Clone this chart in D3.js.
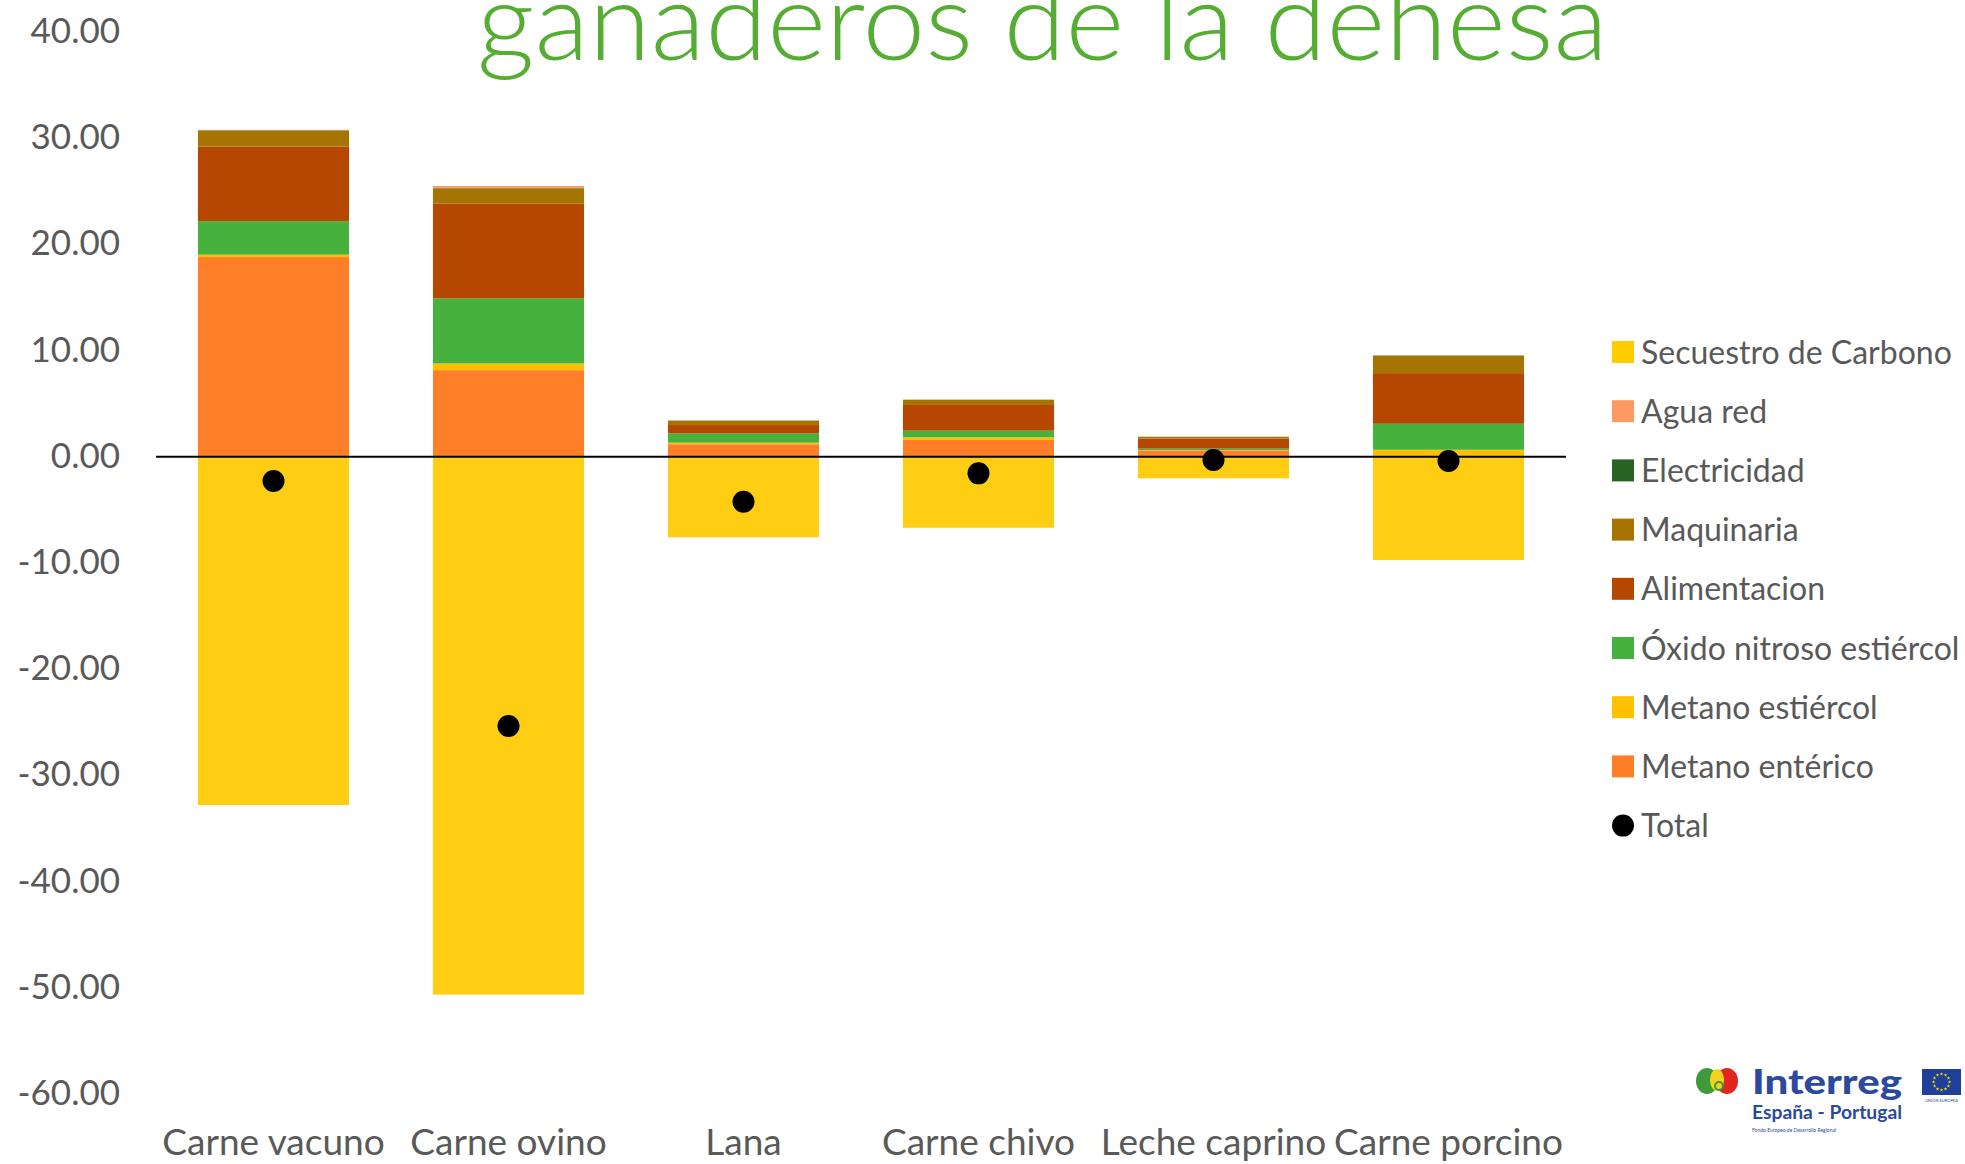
<!DOCTYPE html>
<html>
<head>
<meta charset="utf-8">
<script src="https://cdn.jsdelivr.net/npm/d3@7"></script>
<style>
  body { margin: 0; background: #ffffff; }
  svg { display: block; }
</style>
</head>
<body>
<svg id="chart" width="1965" height="1164"></svg>
<script>
// Livestock products of the dehesa: emission sources (positive) and carbon sequestration (negative)
const categories = ["Carne vacuno", "Carne ovino", "Lana", "Carne chivo", "Leche caprino", "Carne porcino"];

const metanoEnterico   = [18.80, 8.15, 1.17, 1.57, 0.56, 0.05];
const metanoEstiercol  = [0.22, 0.63, 0.15, 0.25, 0.05, 0.60];
const oxidoNitroso     = [3.16, 6.12, 0.88, 0.63, 0.15, 2.45];
const alimentacion     = [7.03, 8.95, 0.78, 2.42, 0.94, 4.77];
const maquinaria       = [1.50, 1.40, 0.40, 0.47, 0.15, 1.63];
const electricidad     = [0.03, 0.04, 0.02, 0.02, 0.02, 0.03];
const aguaRed          = [0.04, 0.20, 0.02, 0.03, 0.02, 0.03];
const secuestroCarbono = [-32.80, -50.65, -7.59, -6.69, -2.04, -9.73];
const total            = [-2.29, -25.36, -4.24, -1.57, -0.31, -0.40];

const yTicks = [40, 30, 20, 10, 0, -10, -20, -30, -40, -50, -60];

// stacking order, bottom to top
const seriesNames = [
  "Metano entérico", "Metano estiércol", "Óxido nitroso estiércol", "Alimentacion",
  "Maquinaria", "Electricidad", "Agua red", "Secuestro de Carbono"
];
const seriesValues = [
  metanoEnterico, metanoEstiercol, oxidoNitroso, alimentacion,
  maquinaria, electricidad, aguaRed, secuestroCarbono
];
const seriesColors = [
  "#fe7f27", "#ffc000", "#47b13d", "#b54700",
  "#a67400", "#276423", "#fb9a62", "#ffcd11"
];
const legendOrder = [
  "Secuestro de Carbono", "Agua red", "Electricidad", "Maquinaria",
  "Alimentacion", "Óxido nitroso estiércol", "Metano estiércol", "Metano entérico", "Total"
];

const rows = categories.map((c, i) => {
  const r = { categoria: c };
  seriesNames.forEach((s, k) => { r[s] = seriesValues[k][i]; });
  return r;
});

const color = d3.scaleOrdinal().domain(seriesNames).range(seriesColors);

const svg = d3.select("#chart");
const textColor = "#595959";
const fontFamily = "Lato, 'Open Sans', sans-serif";

const x = d3.scaleBand()
  .domain(categories)
  .range([156, 1566])
  .paddingInner(0.357)
  .paddingOuter(0.1785);

const y = d3.scaleLinear()
  .domain([-60, 40])
  .range([1093.9, 31.9]);

// Title (second line of the heading)
svg.append("text")
  .attr("x", 477)
  .attr("y", 60)
  .attr("textLength", 1131)
  .attr("lengthAdjust", "spacingAndGlyphs")
  .style("font-family", fontFamily)
  .style("font-weight", 300)
  .style("font-size", "108px")
  .style("fill", "#55ad34")
  .text("ganaderos de la dehesa");

// Stacked columns
const stacked = d3.stack()
  .keys(seriesNames)
  .offset(d3.stackOffsetDiverging)(rows);

svg.append("g")
  .selectAll("g")
  .data(stacked)
  .join("g")
    .attr("fill", d => color(d.key))
  .selectAll("rect")
  .data(d => d)
  .join("rect")
    .attr("x", d => x(d.data.categoria))
    .attr("width", x.bandwidth())
    .attr("y", d => y(Math.max(d[0], d[1])))
    .attr("height", d => Math.abs(y(d[0]) - y(d[1])));

// Y axis labels
const fmt = d3.formatLocale({
  decimal: ".", thousands: ",", grouping: [3], currency: ["", ""], minus: "-"
}).format(".2f");

const yAxis = svg.append("g")
  .attr("transform", "translate(156,0)")
  .call(d3.axisLeft(y).tickValues(yTicks).tickFormat(fmt).tickSize(0).tickPadding(36));
yAxis.select(".domain").remove();
yAxis.selectAll("text")
  .attr("dy", "0.30em")
  .style("font-family", fontFamily)
  .style("font-size", "35px")
  .style("fill", textColor);

// Zero line
svg.append("line")
  .attr("x1", x.range()[0])
  .attr("x2", x.range()[1])
  .attr("y1", y(0))
  .attr("y2", y(0))
  .attr("stroke", "#000")
  .attr("stroke-width", 2);

// X axis labels
const xAxis = svg.append("g")
  .attr("transform", "translate(0,1155)")
  .call(d3.axisBottom(x).tickSize(0));
xAxis.select(".domain").remove();
xAxis.selectAll("text")
  .attr("y", 0)
  .attr("dy", 0)
  .style("font-family", fontFamily)
  .style("font-size", "37px")
  .style("fill", textColor);

// Total markers
svg.append("g")
  .selectAll("circle")
  .data(categories)
  .join("circle")
    .attr("cx", d => x(d) + x.bandwidth() / 2)
    .attr("cy", (d, i) => y(total[i]))
    .attr("r", 11)
    .attr("fill", "#000");

// Legend
const legend = svg.append("g").attr("transform", "translate(1612,352)");
const item = legend.selectAll("g")
  .data(legendOrder)
  .join("g")
    .attr("transform", (d, i) => `translate(0,${i * 59.2})`);

item.filter(d => d !== "Total").append("rect")
  .attr("x", 0).attr("y", -11)
  .attr("width", 22).attr("height", 22)
  .attr("fill", d => d === "Secuestro de Carbono" ? "#ffcc00" : color(d));

item.filter(d => d === "Total").append("circle")
  .attr("cx", 11).attr("cy", 0).attr("r", 11)
  .attr("fill", "#000");

item.append("text")
  .attr("x", 29)
  .attr("dy", "0.36em")
  .style("font-family", fontFamily)
  .style("font-size", "32px")
  .style("fill", textColor)
  .text(d => d);

// Programme logo, bottom right
const logo = svg.append("g");
logo.append("ellipse").attr("cx", 1707).attr("cy", 1081).attr("rx", 11).attr("ry", 13).attr("fill", "#3f9a3a");
logo.append("ellipse").attr("cx", 1727).attr("cy", 1081).attr("rx", 11).attr("ry", 13).attr("fill", "#e0261e");
logo.append("ellipse").attr("cx", 1717).attr("cy", 1080).attr("rx", 7).attr("ry", 11).attr("fill", "#f3d21c");
logo.append("circle").attr("cx", 1719).attr("cy", 1086).attr("r", 4).attr("fill", "none").attr("stroke", "#3f9a3a").attr("stroke-width", 2);

logo.append("text")
  .attr("x", 1752).attr("y", 1094)
  .style("font-family", fontFamily)
  .style("font-weight", 900)
  .style("font-size", "34px")
  .style("fill", "#2b4a9e")
  .attr("textLength", 150)
  .attr("lengthAdjust", "spacingAndGlyphs")
  .text("Interreg");
logo.append("text")
  .attr("x", 1752).attr("y", 1119)
  .style("font-family", fontFamily)
  .style("font-weight", 700)
  .style("font-size", "18px")
  .style("fill", "#2b4a9e")
  .attr("textLength", 150)
  .attr("lengthAdjust", "spacingAndGlyphs")
  .text("España - Portugal");
logo.append("text")
  .attr("x", 1752).attr("y", 1132)
  .style("font-family", fontFamily)
  .style("font-size", "5px")
  .style("fill", "#2b4a9e")
  .text("Fondo Europeo de Desarrollo Regional");

logo.append("rect").attr("x", 1922).attr("y", 1069).attr("width", 39).attr("height", 26).attr("fill", "#1f3f99");
const stars = d3.range(12).map(k => (k / 12) * 2 * Math.PI);
logo.append("g")
  .selectAll("path")
  .data(stars)
  .join("path")
    .attr("d", d3.symbol(d3.symbolStar, 4))
    .attr("transform", a => `translate(${1941.5 + 8 * Math.sin(a)},${1082 - 8 * Math.cos(a)})`)
    .attr("fill", "#ffdd00");
logo.append("text")
  .attr("x", 1941.5).attr("y", 1102)
  .attr("text-anchor", "middle")
  .style("font-family", fontFamily)
  .style("font-size", "4px")
  .style("fill", "#2b4a9e")
  .text("UNIÓN EUROPEA");
</script>
</body>
</html>
